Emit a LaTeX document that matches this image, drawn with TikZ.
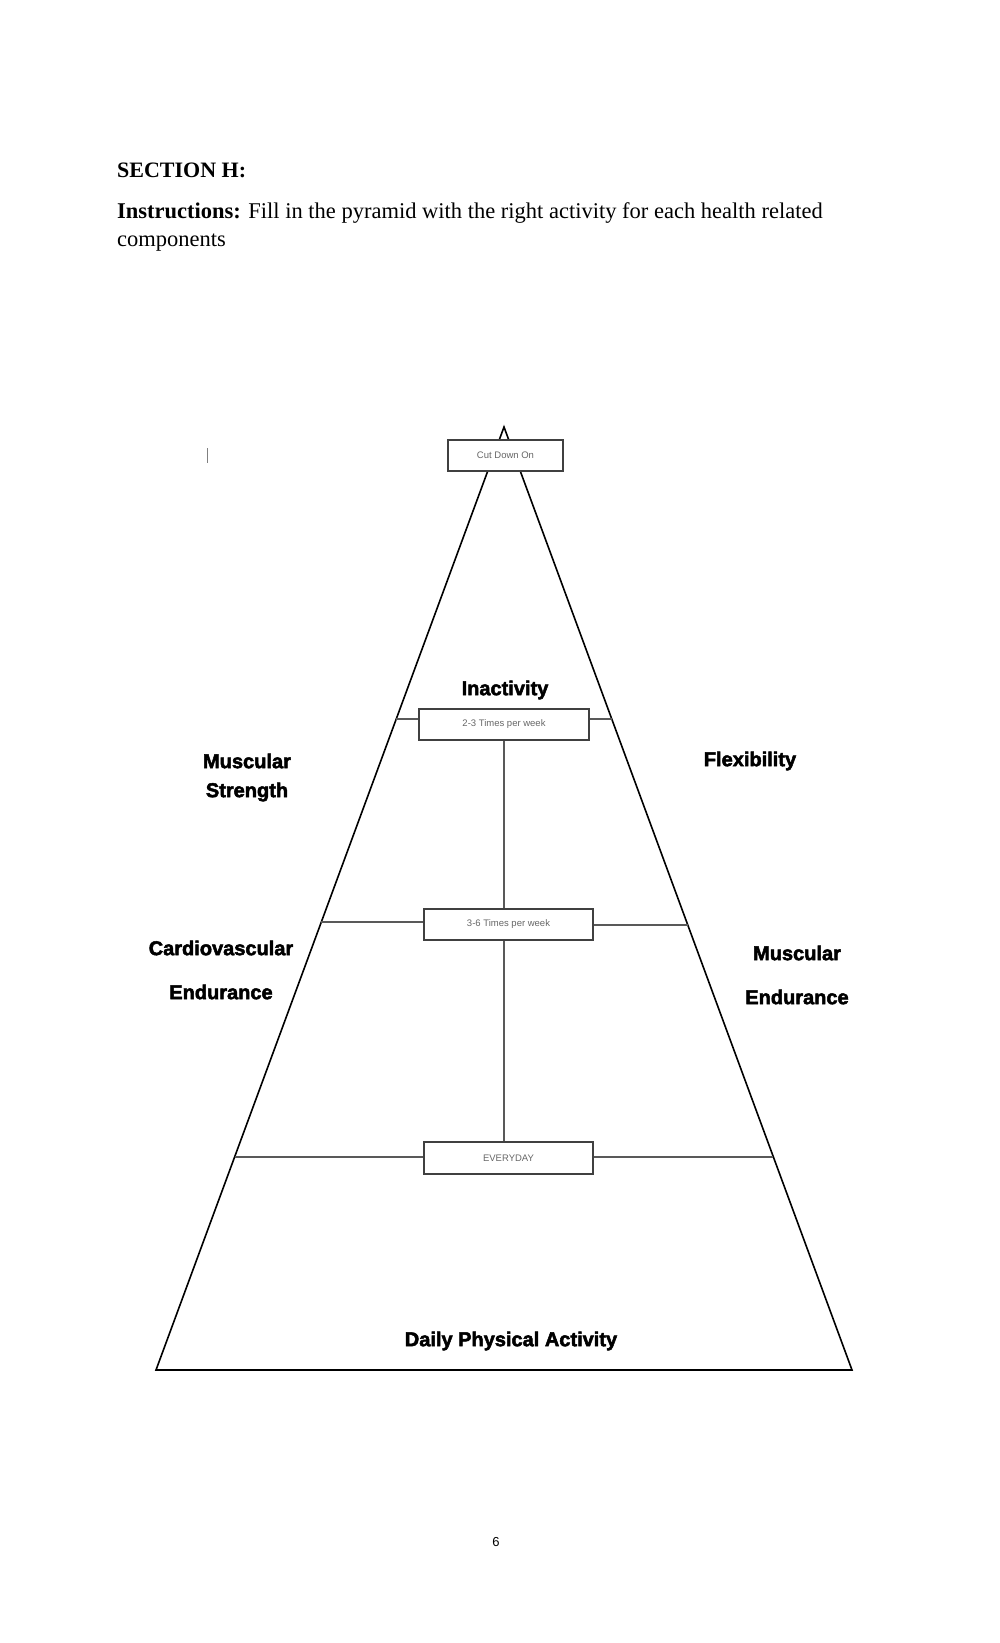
\documentclass[tikz,border=0pt]{standalone}
\usepackage{fontspec}
\setmainfont{Liberation Serif}
\newfontfamily\lsans{Liberation Sans}
\newfontfamily\lsansheavy[FakeBold=2.5]{Liberation Sans Bold}
\usetikzlibrary{calc}
\begin{document}
\begin{tikzpicture}[x=1pt,y=-1pt,
  lbl/.style={font=\lsansheavy\fontsize{20}{24}\selectfont, align=center},
  tbox/.style={draw=black!75, line width=1.6pt, inner sep=0pt, font=\lsans\fontsize{9.5}{11}\selectfont, text=black!60},
  side/.style={line width=1.6pt, black},
  conn/.style={line width=1.6pt, black!65}]
\useasboundingbox (0,0) rectangle (1000,1643);
\node[anchor=base west, inner sep=0pt, font=\bfseries\fontsize{22}{26}\selectfont] (sec) at (117,177) {SECTION H:};
\node[anchor=base west, inner sep=0pt, font=\fontsize{22.5}{26}\selectfont] (ins1) at (117,218) {\textbf{Instructions:} Fill in the pyramid with the right activity for each health related};
\node[anchor=base west, inner sep=0pt, font=\fontsize{22.5}{26}\selectfont] (ins2) at (117,246) {components};
\coordinate (apex) at (504,427);
\coordinate (bl) at (156,1370);
\coordinate (br) at (852,1370);
\draw[side] (apex) -- (bl) -- (br) -- cycle;
\node[tbox, fill=white, minimum width=115pt, minimum height=31pt] (cut) at (505.5,455.5) {Cut Down On};
\node[tbox, minimum width=170pt, minimum height=31pt] (b23) at (504,724.5) {2-3 Times per week};
\node[tbox, minimum width=169pt, minimum height=31pt] (b36) at (508.5,924.5) {3-6 Times per week};
\node[tbox, minimum width=169pt, minimum height=32pt] (bev) at (508.5,1158) {EVERYDAY};
\coordinate (l1) at ($(apex)!0.3097!(bl)$); \coordinate (r1) at ($(apex)!0.3097!(br)$);
\coordinate (l2) at ($(apex)!0.525!(bl)$); \coordinate (r2) at ($(apex)!0.528!(br)$);
\coordinate (l3) at ($(apex)!0.774!(bl)$); \coordinate (r3) at ($(apex)!0.774!(br)$);
\draw[conn] (l1) -- (b23.west|-l1); \draw[conn] (b23.east|-r1) -- (r1);
\draw[conn] (l2) -- (b36.west|-l2); \draw[conn] (b36.east|-r2) -- (r2);
\draw[conn] (l3) -- (bev.west|-l3); \draw[conn] (bev.east|-r3) -- (r3);
\draw[conn] (b23.south) -- (b23.south|-b36.north);
\draw[conn] (b23.south|-b36.south) -- (b23.south|-bev.north);
\node[lbl] (inact) at (505,690) {Inactivity};
\node[lbl] (ms) at (247,761) {Muscular};
\node[lbl] (ms2) at (247,792) {Strength};
\node[lbl] (flex) at (750,761) {Flexibility};
\node[lbl] (cv) at (221,948) {Cardiovascular};
\node[lbl] (cve) at (221,992) {Endurance};
\node[lbl] (me1) at (797,953) {Muscular};
\node[lbl] (me2) at (797,997) {Endurance};
\node[lbl] (dpa) at (511,1341) {Daily Physical Activity};
\draw[black!50, line width=1pt] (207,448) -- (207,463);
\node[font=\lsans\fontsize{13}{15}\selectfont] (pg) at (496,1542) {6};
\end{tikzpicture}
\end{document}
